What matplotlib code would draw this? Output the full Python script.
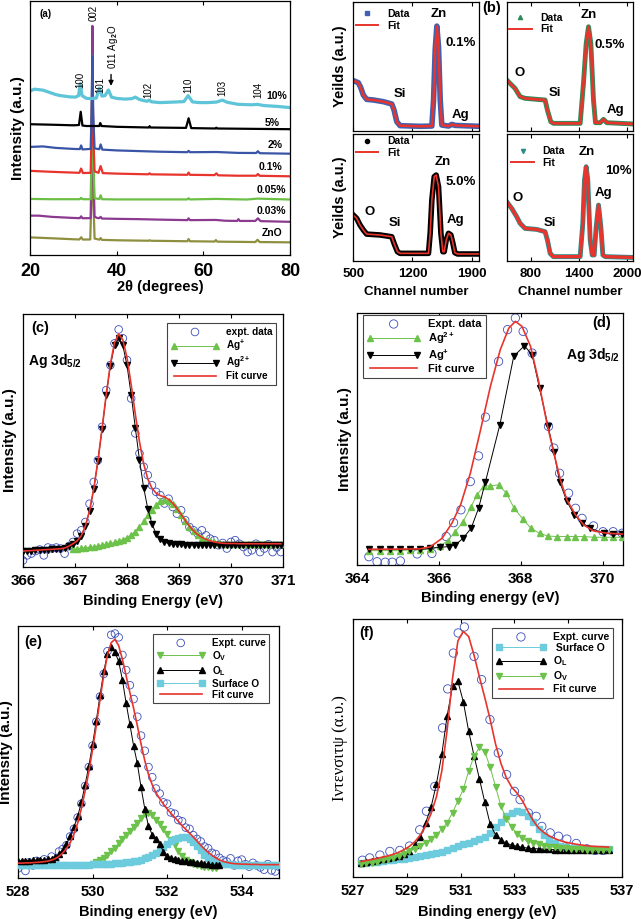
import numpy as np
import matplotlib
matplotlib.use('Agg')
import matplotlib.pyplot as plt
from matplotlib.lines import Line2D

plt.rcParams['font.family'] = ['Liberation Sans', 'DejaVu Sans']
plt.rcParams['font.weight'] = 'bold'
plt.rcParams['mathtext.fontset'] = 'custom'
plt.rcParams['mathtext.rm'] = 'Liberation Sans:bold'
plt.rcParams['mathtext.it'] = 'Liberation Sans:bold'
plt.rcParams['mathtext.bf'] = 'Liberation Sans:bold'
plt.rcParams['axes.linewidth'] = 0.9

# ---------------- (a) XRD patterns, offset intensities ----------------
xrd_labels = ['ZnO', '0.03%', '0.05%', '0.1%', '2%', '5%', '10%']
xrd_colors = ['#8f8f40', '#8b3a8f', '#6bbf45', '#e8342c', '#3a55a5', 'black', '#5ec4d8']
xrd_label_x = [75.8, 75.8, 75.8, 75.4, 76.6, 75.8, 76.9]
xrd_label_y = [21.7, 44.3, 65.7, 88.3, 110.7, 132.5, 160]

zno_x = [20, 25, 30, 31.4, 31.8, 32.2, 33.9, 34.2, 34.4, 34.6, 34.9, 36.0, 36.3, 36.6, 40, 47.3, 47.6, 47.9,
         56.3, 56.6, 56.9, 62.6, 62.9, 63.2, 68, 72.0, 72.5, 73.0, 80]
zno_y = [17.7, 16.8, 15.8, 15.6, 17.8, 15.5, 15.6, 60, 185, 60, 16.5, 15.4, 17.0, 15.2, 14.8, 14.3, 14.8, 14.3,
         13.8, 16.0, 13.8, 13.5, 15.0, 13.4, 13.2, 13.0, 15.3, 13.0, 12.7]
s003_x = [20, 22, 25, 30, 31.5, 31.8, 32.1, 34.0, 34.2, 34.4, 34.6, 34.9, 35.5, 36.0, 36.3, 36.6, 40, 45, 50,
          56.3, 56.6, 56.9, 62.9, 65, 67.8, 68.1, 68.4, 72.0, 72.6, 73.2, 80]
s003_y = [39.5, 39.5, 38.3, 37.2, 37.0, 38.8, 36.9, 37.0, 90, 230, 90, 38.5, 37.2, 37.0, 38.3, 36.6, 36.3, 36.0, 35.5,
          35.0, 36.8, 35.0, 35.2, 34.4, 34.2, 36.0, 34.2, 34.2, 36.8, 34.0, 33.3]
s005_x = [20, 25, 31.5, 31.8, 32.1, 34.0, 34.2, 34.4, 34.6, 34.9, 36.0, 36.3, 36.6, 40, 50, 56.3, 56.6, 56.9,
          62.9, 70, 72.5, 80]
s005_y = [56.3, 56.0, 56.0, 57.4, 56.0, 56.0, 100, 200, 100, 57.0, 56.2, 60.0, 56.0, 55.8, 55.8, 55.8, 57.0, 55.8,
          56.3, 55.7, 56.6, 55.7]
s01_x = [20, 25, 31.4, 31.8, 32.2, 34.0, 34.2, 34.4, 34.6, 34.9, 35.8, 36.3, 36.8, 40, 47.3, 47.6, 47.9, 56.3,
         56.6, 56.9, 62.6, 63.0, 63.4, 68, 72.2, 72.6, 73.0, 80]
s01_y = [84.5, 83.5, 82.5, 86.8, 82.3, 82.5, 120, 190, 120, 84.0, 82.5, 89.3, 82.2, 81.7, 81.0, 82.0, 81.0, 80.5,
         82.8, 80.5, 80.2, 82.0, 80.0, 79.6, 79.6, 81.3, 79.5, 79.0]
s2_x = [20, 23, 26, 30, 31.5, 31.8, 32.1, 34.0, 34.2, 34.4, 34.6, 34.9, 36.0, 36.3, 36.7, 40, 47.5, 50, 56.3,
        56.6, 56.9, 63.0, 68, 72.2, 72.6, 73.0, 80]
s2_y = [108.5, 109.0, 107.5, 106.5, 106.3, 110.0, 106.0, 106.5, 140, 200, 140, 107.0, 106.2, 111.0, 105.8, 105.0,
        104.0, 103.7, 103.2, 104.6, 103.2, 103.4, 102.5, 102.4, 104.2, 102.2, 101.7]
s5_x = [20, 25, 30, 31.3, 31.7, 32.1, 33, 36.0, 36.2, 36.5, 40, 47.4, 47.6, 47.8, 56.0, 56.6, 57.2, 62.8, 63.0,
        63.2, 72.5, 80]
s5_y = [131.3, 130.8, 130.2, 130.5, 143.8, 130.0, 129.5, 129.5, 132.5, 129.5, 128.7, 128.0, 129.3, 128.0, 127.6,
        137.3, 127.4, 127.0, 127.8, 127.0, 126.6, 126.3]
s10_x = [20, 21, 22, 23, 24, 25, 26, 27, 28, 29, 30.5, 31.2, 31.6, 32.0, 33, 34.0, 35.3, 36.0, 36.6, 37.3, 38.1,
         38.8, 40, 42, 43.5, 44.3, 45.3, 47.0, 47.5, 48.0, 50, 53, 55.5, 56.5, 57.5, 59, 61, 63, 64.4, 65.5, 68,
         71, 72.5, 74, 77, 80]
s10_y = [164.5, 166.5, 166.0, 165.5, 164.0, 162.5, 161.0, 160.0, 159.5, 158.8, 158.5, 160.0, 172.0, 160.0, 157.3,
         157.0, 157.5, 167.5, 159.5, 160.0, 165.7, 158.5, 157.2, 156.5, 157.0, 158.5, 156.0, 154.3, 155.5, 153.8,
         153.0, 153.5, 154.0, 160.0, 153.7, 153.0, 153.0, 153.5, 155.5, 153.3, 151.3, 150.8, 151.2, 150.0, 149.2,
         148.0]
xrd_x = [zno_x, s003_x, s005_x, s01_x, s2_x, s5_x, s10_x]
xrd_y = [zno_y, s003_y, s005_y, s01_y, s2_y, s5_y, s10_y]

hkl_labels = ['100', '002', '101', '102', '110', '103', '104']
hkl_x = [31.5, 34.6, 36.2, 47.3, 56.5, 64.4, 72.7]
hkl_y = [168, 235, 163, 158, 163, 160, 158]

# ---------------- (b) RBS spectra ----------------
b_tl_ch = [500, 559, 587, 619, 658, 737, 856, 955, 982, 1014, 1053, 1291, 1429, 1449, 1468, 1488, 1508, 1528,
           1547, 1626, 1666, 1705, 1990]
b_tl_y = [38.8, 37.2, 33.6, 27.6, 24.3, 23.8, 22.5, 20.7, 16.0, 7.0, 3.9, 3.4, 3.6, 23.8, 62.5, 81.1, 65.0, 23.8,
          4.4, 3.6, 4.9, 4.1, 3.4]
b_tr_ch = [500, 562, 604, 667, 729, 875, 979, 1008, 1050, 1083, 1417, 1458, 1492, 1521, 1550, 1583, 1608, 1667,
           1708, 1750, 2080]
b_tr_y = [39.3, 35.4, 32.8, 26.4, 25.1, 24.3, 23.8, 16.0, 7.0, 5.7, 5.7, 36.7, 67.7, 80.6, 67.7, 23.8, 6.2, 6.2,
          8.8, 6.2, 5.2]
b_bl_ch = [500, 540, 579, 619, 658, 816, 955, 982, 1022, 1053, 1389, 1409, 1429, 1457, 1480, 1508, 1536, 1559,
           1575, 1599, 1626, 1654, 1678, 1701, 1733, 1990]
b_bl_y = [36.0, 33.4, 28.2, 24.2, 21.0, 20.3, 18.9, 13.7, 7.1, 5.8, 5.8, 21.6, 47.9, 66.3, 67.6, 58.4, 21.6, 7.1,
          7.1, 16.3, 21.6, 20.3, 13.7, 6.3, 5.3, 5.3]
b_br_ch = [500, 562, 625, 667, 729, 875, 979, 1008, 1042, 1083, 1417, 1450, 1471, 1492, 1512, 1542, 1567, 1592,
           1617, 1646, 1675, 1700, 1729, 2062]
b_br_y = [46.6, 41.3, 34.7, 29.5, 25.5, 24.7, 22.9, 16.3, 5.8, 3.2, 3.2, 29.5, 63.7, 74.2, 63.7, 16.3, 4.5, 4.5,
          26.8, 43.9, 26.8, 4.5, 3.2, 2.6]

# ---------------- (c) Ag 3d5/2, sample 1 ----------------
c_x = np.round(366 + 0.08 * np.arange(63), 2)
c_ag2 = [6.3, 6.4, 6.5, 6.6, 6.7, 6.8, 6.9, 7.0, 7.1, 7.2,
         7.5, 8.2, 9.2, 10.3, 12.3, 16.2, 22.3, 30.8, 41.8, 54.6,
         67.8, 79.5, 87.6, 90.5, 87.6, 79.7, 68.1, 55.0, 42.3, 31.4,
         23.0, 17.0, 13.2, 10.9, 9.9, 9.3, 9.0, 8.9, 8.9, 8.8,
         8.8, 8.8, 8.8, 8.8, 8.8, 8.8, 8.8, 8.8, 8.8, 8.8,
         8.7, 8.7, 8.7, 8.7, 8.7, 8.7, 8.7, 8.7, 8.7, 8.7, 8.7, 8.7, 8.7]
c_ag1 = [7.0, 7.2, 7.4, 7.6, 7.8, 8.0, 8.3, 8.6,
         8.9, 9.3, 9.7, 10.2, 10.8, 11.6, 12.6, 14.0, 15.8, 18.0,
         20.4, 22.7, 24.6, 25.9, 26.4, 26.0, 24.8, 22.9, 20.6, 18.2,
         16.0, 14.1, 12.6, 11.5, 10.7, 10.1, 9.7, 9.4, 9.2, 9.1,
         9.1, 9.1, 9.0, 9.0, 9.0, 9.0, 9.0, 9.0, 9.0, 9.0, 9.0, 9.0, 9.0]
c_fit = [6.3, 6.4, 6.5, 6.6, 6.7, 6.8, 6.9, 7.0, 7.1, 7.2,
         7.5, 8.2, 9.2, 10.3, 12.3, 16.2, 22.3, 30.8, 41.8, 54.6,
         68.1, 80.2, 88.7, 92.1, 89.8, 82.7, 72.1, 60.4, 49.5, 40.8,
         34.8, 31.1, 29.2, 28.2, 27.7, 26.7, 25.2, 23.1, 20.8, 18.4,
         16.2, 14.3, 12.8, 11.7, 10.9, 10.3, 9.9, 9.6, 9.4, 9.3,
         9.3, 9.3, 9.2, 9.2, 9.2, 9.2, 9.2, 9.2, 9.2, 9.2, 9.2, 9.2, 9.2]
c_expt = [2.6, 4.6, 5.3, 6.3, 6.9, 4.6, 7.7, 7.3, 7.7, 7.3,
          5.3, 8.2, 9.9, 13.2, 14.5, 17.8, 25.0, 33.6, 42.2, 55.4,
          69.9, 79.8, 88.4, 93.9, 90.4, 81.8, 66.6, 52.8, 44.9, 39.6,
          36.3, 32.3, 29.7, 28.4, 25.1, 27.0, 23.7, 21.1, 22.4, 18.5,
          15.8, 14.5, 13.2, 14.5, 12.5, 11.2, 10.6, 8.6, 9.5, 7.3,
          9.9, 10.6, 9.2, 7.9, 5.9, 6.6, 9.2, 5.9, 7.3, 9.0, 5.9, 7.7, 5.9]

# ---------------- (d) Ag 3d5/2, sample 2 ----------------
d_ag1_x = [364.29, 364.55, 364.80, 365.06, 365.29, 365.53, 365.79, 366.02, 366.24, 366.40, 366.59, 366.79,
           366.97, 367.14, 367.49, 367.83, 368.09, 368.28, 368.46, 368.67, 368.81, 368.95, 369.13, 369.31,
           369.50, 369.70, 370.03, 370.26, 370.48]
d_ag1_y = [6.2, 6.2, 6.2, 6.2, 6.2, 6.2, 6.6, 7.0, 7.3, 7.9, 10.6, 14.6, 22.5, 33.1, 55.6, 82.8, 87.0, 83.4, 70.2,
           55.0, 45.0, 33.1, 25.2, 19.9, 16.8, 14.6, 12.6, 12.3, 12.2]
d_ag2_x = [364.29, 364.55, 364.80, 365.06, 365.29, 365.53, 365.79, 366.02, 366.22, 366.40, 366.59, 366.79,
           366.93, 367.10, 367.26, 367.46, 367.65, 367.84, 368.06, 368.25, 368.46, 368.66, 368.89, 369.13,
           369.33, 369.54, 369.78, 370.03, 370.26, 370.48]
d_ag2_y = [5.7, 5.7, 5.7, 5.7, 6.0, 6.0, 6.3, 7.4, 9.7, 13.2, 17.2, 23.2, 27.8, 31.4, 31.4, 31.8, 28.5, 22.5,
           18.1, 14.6, 12.6, 11.5, 11.3, 11.3, 11.3, 11.3, 11.0, 11.0, 11.0, 11.0]
d_expt_x = [364.29, 364.49, 364.69, 364.86, 365.06, 365.47, 365.83, 366.18, 366.36, 366.54, 366.77, 366.97,
            367.14, 367.46, 367.68, 367.87, 368.06, 368.28, 368.68, 368.81, 368.95, 369.17, 369.34, 369.50,
            369.78, 370.01, 370.26, 370.48]
d_expt_y = [3.3, 1.3, 1.1, 1.1, 1.6, 4.4, 4.6, 11.3, 16.8, 21.9, 33.1, 43.3, 58.7, 80.8, 93.4, 98.0, 92.7, 84.1,
            55.0, 46.4, 36.4, 28.5, 22.5, 18.5, 15.5, 13.2, 13.2, 12.6]
d_fit_x = [364.29, 365.53, 365.79, 366.08, 366.32, 366.53, 366.77, 367.01, 367.26, 367.50, 367.71, 367.87,
           368.03, 368.24, 368.44, 368.64, 368.81, 368.97, 369.13, 369.34, 369.54, 369.78, 370.11, 370.48]
d_fit_y = [6.2, 6.4, 7.2, 10.6, 16.6, 23.8, 36.4, 53.0, 70.9, 85.4, 94.0, 96.7, 94.7, 86.8, 72.8, 56.3, 44.4,
           33.8, 25.8, 19.9, 15.9, 13.5, 12.6, 12.3]

# ---------------- (e) O 1s, sample 1 ----------------
e_x = np.round(528 + 0.1 * np.arange(71), 1)
e_ol = [6.8, 6.8, 6.9, 6.9, 7.0, 7.0, 7.1, 7.2, 7.4, 7.7,
        8.3, 9.4, 11.3, 13.6, 16.5, 20.2, 24.5, 30.0, 37.0, 44.5,
        53.0, 62.5, 72.5, 82.0, 89.0, 91.8, 89.6, 86.0, 78.6, 69.4,
        61.0, 52.5, 45.5, 36.0, 27.5, 20.5, 17.2, 15.4, 13.4, 10.5,
        8.7, 8.1, 7.6, 7.3, 6.9, 6.6, 6.4, 6.2, 6.0, 5.8,
        5.6, 5.4, 5.2, 5.1, 5.0]
e_ov = [5.5, 6.2, 7.0, 8.0, 9.2, 10.6, 12.1, 13.7, 15.3, 16.9,
        18.6, 20.2, 22.0, 23.7, 25.2, 25.8, 24.9, 23.2, 21.4, 19.3,
        17.3, 15.0, 12.9, 10.6, 8.8, 7.3, 6.2, 5.5, 5.0, 4.7,
        4.4, 4.2, 4.1, 4.0]
e_surf = [5.0, 5.0, 5.0, 5.0, 5.0, 5.0, 5.0, 5.0, 5.0, 5.1,
          5.1, 5.1, 5.1, 5.1, 5.2, 5.2, 5.2, 5.3, 5.3, 5.3,
          5.4, 5.4, 5.5, 5.5, 5.6, 5.7, 5.8, 5.9, 6.0, 6.2,
          6.4, 6.6, 6.9, 7.3, 7.8, 8.5, 9.2, 10.0, 11.0, 12.2,
          13.4, 14.5, 15.4, 16.0, 16.3, 16.2, 15.6, 14.4, 12.8, 11.0,
          9.3, 7.9, 7.0, 6.4, 6.0, 5.7, 5.5, 5.4, 5.3, 5.2,
          5.2, 5.1, 5.1, 5.1, 5.1, 5.1, 5.1, 5.1, 5.1, 5.1, 5.1]
e_fit = [5.9, 5.9, 6.0, 6.0, 6.1, 6.2, 6.3, 6.5, 6.7, 7.1,
         7.7, 8.6, 9.9, 11.7, 14.0, 17.4, 21.8, 27.6, 34.5, 42.2,
         51.0, 60.5, 70.8, 80.5, 88.5, 93.4, 94.7, 92.2, 86.8, 80.2,
         73.6, 67.4, 60.5, 53.2, 46.6, 41.1, 37.0, 33.8, 31.5, 29.3,
         27.4, 25.7, 24.1, 22.5, 20.8, 19.3, 17.8, 16.3, 14.7, 13.0,
         11.5, 10.2, 9.0, 8.0, 7.2, 6.6, 6.2, 5.9, 5.7, 5.6,
         5.5, 5.5, 5.4, 5.4, 5.4, 5.3, 5.3, 5.3, 5.3, 5.3, 5.3]
e_expt = [3.8, 5.5, 2.8, 6.2, 5.0, 6.8, 6.0, 7.4, 6.2, 8.5,
          7.0, 10.5, 11.5, 13.0, 16.5, 19.5, 24.0, 29.5, 36.5, 44.0,
          52.5, 62.0, 72.0, 81.0, 90.0, 96.5, 97.0, 95.5, 88.5, 82.5,
          76.5, 71.0, 64.0, 56.5, 50.5, 44.0, 40.0, 35.5, 33.5, 30.0,
          29.5, 26.0, 25.5, 23.0, 22.5, 20.0, 19.5, 17.0, 15.5, 14.5,
          12.5, 11.8, 10.0, 9.5, 8.0, 7.0, 6.5, 7.8, 5.0, 6.8,
          7.3, 5.5, 4.5, 6.0, 5.0, 4.2, 3.3, 5.5, 3.0, 2.6, 4.5]

# ---------------- (f) O 1s, sample 2 ----------------
f_x = np.round(527.3 + 0.2 * np.arange(47), 1)
f_surf = [5.4, 5.6, 5.8, 6.0, 6.2, 6.4, 6.6, 6.8, 7.1, 7.4,
          7.7, 8.0, 8.4, 8.8, 9.3, 9.8, 10.5, 11.2, 11.9, 12.6,
          13.2, 13.8, 14.6, 15.5, 17.0, 19.2, 21.5, 23.5, 25.0, 25.7,
          25.3, 23.7, 21.2, 18.6, 16.3, 14.4, 13.0, 12.1, 11.5, 11.2,
          11.1, 11.0, 10.9, 10.9, 10.9, 10.8, 10.8]
f_ol = [5.5, 5.8, 6.1, 6.4, 6.8, 7.2, 7.7, 8.3, 9.1, 10.2,
        12.5, 15.5, 21.0, 27.0, 36.0, 47.5, 62.5, 73.9, 75.8, 68.0,
        56.5, 47.0, 38.0, 29.0, 20.5, 16.3, 14.3, 13.1, 12.4, 11.9,
        11.5, 11.2, 11.0, 10.9, 10.8, 10.7, 10.6, 10.5, 10.5, 10.4,
        10.4, 10.4, 10.3, 10.3, 10.3, 10.3, 10.3]
f_ov = [5.0, 5.3, 5.6, 6.0, 6.4, 6.9, 7.5, 8.2, 9.0, 9.9,
        10.9, 12.0, 13.3, 14.8, 16.4, 18.5, 21.0, 25.0, 29.5, 34.0,
        41.0, 46.8, 50.3, 48.5, 42.5, 35.0, 27.5, 22.5, 19.3, 16.8,
        15.0, 13.9, 13.2, 12.6, 12.2, 11.8, 11.5, 11.3, 11.1, 10.9,
        10.8, 10.7, 10.6, 10.5, 10.5, 10.4, 10.4]
f_fit = [6.0, 6.4, 6.8, 7.2, 7.7, 8.2, 8.8, 9.6, 10.6, 11.9,
         13.7, 16.2, 19.8, 24.5, 31.0, 41.0, 57.0, 77.0, 91.5, 95.2,
         93.2, 86.0, 77.5, 69.5, 61.0, 51.5, 44.0, 38.5, 34.8, 32.5,
         29.5, 25.5, 21.8, 19.0, 17.2, 15.9, 14.9, 14.1, 13.5, 13.1,
         12.7, 12.4, 12.1, 11.9, 11.8, 11.7, 11.6]
f_expt_x = [527.35, 527.62, 528.0, 528.37, 528.74, 529.1, 529.48, 529.73, 530.04, 530.33, 530.52, 530.73,
            530.91, 531.14, 531.5, 531.78, 532.09, 532.4, 532.71, 533.0, 533.21, 533.52, 533.81, 534.02,
            534.33, 534.64, 534.95, 535.3, 535.7, 536.0, 536.3]
f_expt_y = [6.5, 7.4, 8.5, 9.9, 10.3, 12.0, 18.3, 25.5, 35.1, 57.8, 72.9, 86.8, 94.6, 96.9, 85.5, 76.5, 61.0,
            48.1, 39.7, 33.2, 30.0, 24.8, 23.5, 19.6, 17.1, 15.8, 14.7, 13.0, 10.9, 10.3, 10.3]

GREEN = '#6cc24a'
CYAN = '#6ccbdc'
RED = '#e8342c'
BLUE = '#3d4fb8'

W, H = 641, 919
fig = plt.figure(figsize=(W / 100, H / 100), dpi=100)


def add_ax(x0, y0, x1, y1):  # axes from pixel box (left, top, right, bottom)
    return fig.add_axes([x0 / W, 1 - y1 / H, (x1 - x0) / W, (y1 - y0) / H])


def xps_style(ax, xlim, ticks, xlabel, ylabel_x, tsize=11):
    ax.set_xlim(*xlim)
    ax.set_ylim(0, 100)
    ax.set_xticks(ticks)
    ax.set_yticks([])
    ax.tick_params(axis='x', direction='in', length=3, top=True, labelsize=tsize, pad=5, width=0.8)
    ax.set_xlabel(xlabel, fontsize=10.5, fontweight='bold')
    ax.xaxis.set_label_coords(0.5, -0.105)
    ax.yaxis.set_label_coords(ylabel_x, 0.5)


def xps_legend(ax, loc, anchor, size=7.2):
    leg = ax.legend(loc=loc, bbox_to_anchor=anchor, fontsize=size, fancybox=False, edgecolor='#444444',
                    framealpha=1, borderpad=0.35, labelspacing=0.12, handlelength=4.8, handletextpad=0.7,
                    scatterpoints=1, numpoints=2, borderaxespad=0)
    leg.get_frame().set_linewidth(0.8)


# ---- panel (a)
ax = add_ax(30, 1, 290, 255)
for xs, ys, col in zip(xrd_x, xrd_y, xrd_colors):
    lw = 2.3 if col == '#5ec4d8' else 1.6
    ax.plot(xs, ys, color=col, lw=lw)
for lab, xx, yy in zip(xrd_labels, xrd_label_x, xrd_label_y):
    ax.text(xx, yy, lab, fontsize=7.5, fontweight='bold', ha='center', va='center')
for lab, xx, yy in zip(hkl_labels, hkl_x, hkl_y):
    ax.text(xx, yy, lab, rotation=90, fontsize=7, fontweight='normal', ha='center', va='bottom')
ax.text(39.2, 187, '011 Ag$_2$O', rotation=90, fontsize=7, fontweight='normal', ha='center', va='bottom')
ax.annotate('', xy=(38.7, 167), xytext=(38.7, 184),
            arrowprops=dict(arrowstyle='-|>', color='black', lw=1.0, mutation_scale=7))
ax.text(0.058, 0.95, '(a)', transform=ax.transAxes, fontsize=7, ha='center', va='center')
ax.set_xlim(20, 80)
ax.set_ylim(0, 255)
ax.set_xticks([20, 40, 60, 80])
ax.set_yticks([])
ax.tick_params(axis='x', direction='in', length=3, top=True, labelsize=13, pad=6, width=0.8)
ax.set_xlabel('2θ (degrees)', fontsize=10.5, fontweight='bold')
ax.xaxis.set_label_coords(0.5, -0.10)
ax.set_ylabel('Intensity (a.u.)', fontsize=11, fontweight='bold')
ax.yaxis.set_label_coords(-0.019, 0.5)

# ---- panel (b)
b_panels = [
    ((353.3, 1.7, 479.3, 130.7), b_tl_ch, b_tl_y, '#4060b0', 's', (500, 1990), [500, 1200, 1900], False, 4.0, 1.8,
     [('Zn', 1505, 90.5), ('0.1%', 1766, 68), ('Si', 1054, 28.4), ('Ag', 1766, 12.2)], (-0.04, 1.0)),
    ((506.7, 1.7, 633.3, 130.7), b_tr_ch, b_tr_y, '#2e8b57', '^', (500, 2080), [800, 1400, 2000], False, 3.5, 2.0,
     [('Zn', 1529, 89.7), ('0.5%', 1791, 66.4), ('O', 666, 44.7), ('Si', 1104, 29.2), ('Ag', 1854, 16)],
     (-0.04, 0.97)),
    ((353.3, 134, 479.3, 260.7), b_bl_ch, b_bl_y, 'black', 'o', (500, 1990), [500, 1200, 1900], True, 4.0, 1.2,
     [('Zn', 1552, 77.9), ('5.0%', 1766, 62.1), ('O', 697, 38.4), ('Si', 994, 29.8), ('Ag', 1706, 32.1)],
     (-0.04, 1.04)),
    ((506.7, 134, 633.3, 260.7), b_br_ch, b_br_y, '#2a8c8c', 'v', (500, 2080), [800, 1400, 2000], True, 3.5, 2.4,
     [('Zn', 1504, 85.8), ('10%', 1891, 70.8), ('O', 641, 49.5), ('Ag', 1704, 53.4), ('Si', 1041, 29.8)],
     (-0.02, 0.96)),
]
for box, ch, yv, col, mk, xl, tk, bottom_row, dlw, flw, labels, lanchor in b_panels:
    ax = add_ax(*box)
    ax.plot(ch, yv, color=col, lw=dlw, solid_joinstyle='round')
    ax.plot(ch, yv, color=RED, lw=flw, solid_joinstyle='round')
    for t, xx, yy in labels:
        ax.text(xx, yy, t, fontsize=9.5, ha='center', va='center')
    handles = [Line2D([], [], ls='none', marker=mk, ms=3, color=col),
               Line2D([], [], color=RED, lw=1.4)]
    ax.legend(handles, ['Data', 'Fit'], loc='upper left', bbox_to_anchor=lanchor, frameon=False,
              fontsize=7.5, handlelength=2.2, handletextpad=0.8, labelspacing=0.15, borderaxespad=0.3)
    ax.set_xlim(*xl)
    ax.set_ylim(0, 100)
    ax.set_xticks(tk)
    ax.set_yticks([])
    ax.tick_params(axis='x', direction='in', length=3, top=True, labelsize=9.5, pad=5, width=0.8,
                   labelbottom=bottom_row)
    if bottom_row:
        ax.set_xlabel('Channel number', fontsize=9.5, fontweight='bold')
        ax.xaxis.set_label_coords(0.5, -0.2)
    if box[0] < 400:
        ax.set_ylabel('Yeilds (a.u.)', fontsize=10.5, fontweight='bold')
        ax.yaxis.set_label_coords(-0.052, 0.5)
fig.text(492 / W, 1 - 8 / H, '(b)', fontsize=10.5, ha='center', va='center')

# ---- panel (c)
ax = add_ax(23, 314, 283, 567)
ax.scatter(c_x, c_expt, s=30, facecolors='none', edgecolors=BLUE, linewidths=0.6, label='expt. data', zorder=2)
ax.plot(c_x[12:], c_ag1, color=GREEN, lw=0.7, marker='^', ms=5, mec=GREEN, label='Ag$^{+}$', zorder=3)
ax.plot(c_x, c_ag2, color='black', lw=0.7, marker='v', ms=5, label='Ag$^{2+}$', zorder=4)
ax.plot(c_x, c_fit, color=RED, lw=1.2, label='Fit curve', zorder=5)
xps_style(ax, (366, 371), [366, 367, 368, 369, 370, 371], 'Binding Energy (eV)', -0.023)
ax.set_ylabel('Intensity (a.u.)', fontsize=11, fontweight='bold')
xps_legend(ax, 'upper right', (0.973, 0.964))
ax.text(0.065, 0.945, '(c)', transform=ax.transAxes, fontsize=10.5, ha='center', va='center')
ax.text(0.02, 0.815, 'Ag 3d$_{5/2}$', transform=ax.transAxes, fontsize=10, ha='left', va='center')

# ---- panel (d)
ax = add_ax(357, 313, 623, 565)
ax.scatter(d_expt_x, d_expt_y, s=36, facecolors='none', edgecolors=BLUE, linewidths=0.6, label='Expt. data',
           zorder=2)
ax.plot(d_ag2_x, d_ag2_y, color=GREEN, lw=0.7, marker='^', ms=5, mec=GREEN, label='Ag$^{2+}$', zorder=3)
ax.plot(d_ag1_x, d_ag1_y, color='black', lw=0.7, marker='v', ms=5, label='Ag$^{+}$', zorder=4)
ax.plot(d_fit_x, d_fit_y, color=RED, lw=1.2, label='Fit curve', zorder=5)
xps_style(ax, (364, 370.5), [364, 366, 368, 370], 'Binding energy (eV)', -0.019)
ax.set_ylabel('Intensity (a.u.)', fontsize=11, fontweight='bold')
xps_legend(ax, 'upper left', (0.023, 0.992), size=8)
ax.text(0.921, 0.96, '(d)', transform=ax.transAxes, fontsize=10.5, ha='center', va='center')
ax.text(0.99, 0.835, 'Ag 3d$_{5/2}$', transform=ax.transAxes, fontsize=10, ha='right', va='center')

# ---- panel (e)
ax = add_ax(18, 626, 279, 878)
ax.scatter(e_x, e_expt, s=30, facecolors='none', edgecolors=BLUE, linewidths=0.6, label='Expt. curve', zorder=2)
ax.plot(e_x[20:54], e_ov, color=GREEN, lw=0.7, marker='v', ms=4.2, mec=GREEN, label='O$_V$', zorder=3)
ax.plot(e_x[:55], e_ol, color='black', lw=0.7, marker='^', ms=4.2, label='O$_L$', zorder=4)
ax.plot(e_x, e_surf, color=CYAN, lw=0.7, marker='s', ms=4.5, mec=CYAN, label='Surface O', zorder=3)
ax.plot(e_x, e_fit, color=RED, lw=1.2, label='Fit curve', zorder=5)
xps_style(ax, (528, 535), [528, 530, 532, 534], 'Binding energy (eV)', -0.019, tsize=10.5)
ax.xaxis.set_label_coords(0.5, -0.107)
ax.set_ylabel('Intensity (a.u.)', fontsize=11, fontweight='bold')
xps_legend(ax, 'upper right', (0.962, 0.968))
ax.text(0.057, 0.937, '(e)', transform=ax.transAxes, fontsize=10.5, ha='center', va='center')

# ---- panel (f)
ax = add_ax(353, 619, 622, 877)
ax.scatter(f_expt_x, f_expt_y, s=36, facecolors='none', edgecolors=BLUE, linewidths=0.6, label='Expt. curve',
           zorder=2)
ax.plot(f_x, f_surf, color=CYAN, lw=0.7, marker='s', ms=4.5, mec=CYAN, label=' Surface O', zorder=3)
ax.plot(f_x, f_ol, color='black', lw=0.7, marker='^', ms=4.5, label='O$_L$', zorder=4)
ax.plot(f_x, f_ov, color=GREEN, lw=0.7, marker='v', ms=4.5, mec=GREEN, label='O$_V$', zorder=4)
ax.plot(f_x, f_fit, color=RED, lw=1.2, label='Fit curve', zorder=5)
xps_style(ax, (527, 537), [527, 529, 531, 533, 535, 537], 'Binding energy (eV)', -0.019, tsize=10.5)
ax.xaxis.set_label_coords(0.5, -0.108)
ax.set_ylabel('Ιντενσιτψ (α.υ.)', fontsize=12, fontweight='normal', family='Liberation Serif')
xps_legend(ax, 'upper right', (0.967, 0.965), size=7.5)
ax.text(0.052, 0.946, '(f)', transform=ax.transAxes, fontsize=10.5, ha='center', va='center')

fig.savefig('out.png', dpi=100)
